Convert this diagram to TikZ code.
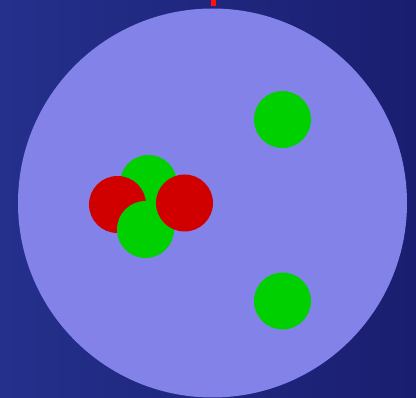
\documentclass[tikz,border=0pt]{standalone}
\begin{document}
\begin{tikzpicture}[x=1pt,y=-1pt,
  ball/.style={circle,minimum size=57pt,inner sep=0pt,draw=none},
  gball/.style={ball,fill=ballgreen},
  rball/.style={ball,fill=ballred}]
\definecolor{bgleft}{HTML}{24308C}
\definecolor{bgright}{HTML}{1A1E70}
\definecolor{lav}{HTML}{8282E8}
\definecolor{ballgreen}{HTML}{00D000}
\definecolor{ballred}{HTML}{D00000}
\definecolor{tick}{HTML}{FF1010}
\shade[left color=bgleft,right color=bgright] (0,0) rectangle (416,398);
\useasboundingbox (0,0) rectangle (416,398);
\node[circle,fill=lav,minimum size=389pt,inner sep=0pt] (disc) at (212.5,203) {};
\fill[tick] (211,0) rectangle (216,6);
\node[gball] (g1) at (282.5,119.5) {};
\node[gball] (g2) at (282.5,301) {};
\node[gball] (g3) at (148.5,183.5) {};
\node[rball] (r1) at (117.5,204.5) {};
\node[gball] (g4) at (145.5,229.5) {};
\node[rball] (r2) at (184.5,203) {};
\end{tikzpicture}
\end{document}
